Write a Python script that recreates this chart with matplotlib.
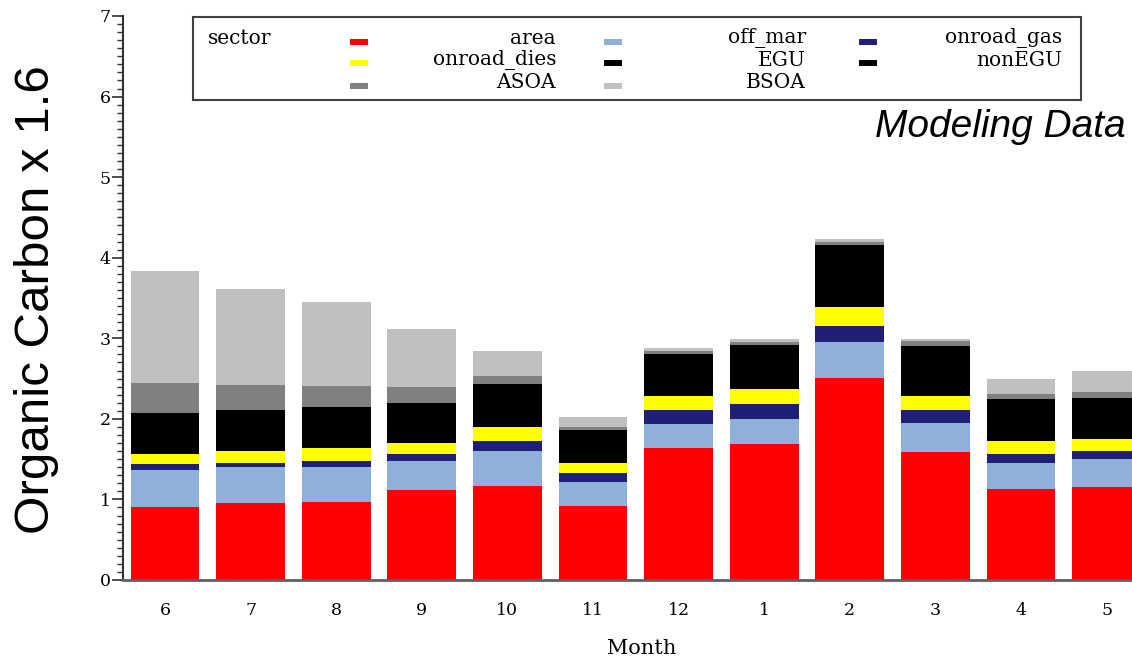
import matplotlib
matplotlib.use("Agg")
import matplotlib.pyplot as plt
from matplotlib.patches import Rectangle
from matplotlib.ticker import MultipleLocator
import numpy as np

# ---- data ----
months = ["6", "7", "8", "9", "10", "11", "12", "1", "2", "3", "4", "5"]
area        = [0.906, 0.952, 0.968, 1.113, 1.171, 0.918, 1.642, 1.684, 2.511, 1.585, 1.126, 1.154]
off_mar     = [0.455, 0.455, 0.439, 0.368, 0.426, 0.295, 0.290, 0.310, 0.439, 0.364, 0.322, 0.352]
onroad_gas  = [0.075, 0.041, 0.074, 0.087, 0.132, 0.119, 0.178, 0.190, 0.207, 0.161, 0.120, 0.095]
onroad_dies = [0.132, 0.153, 0.161, 0.132, 0.174, 0.116, 0.178, 0.191, 0.235, 0.178, 0.161, 0.145]
EGU         = [0.15, 0.16, 0.15, 0.14, 0.16, 0.12, 0.14, 0.15, 0.20, 0.17, 0.14, 0.14]
nonEGU      = [0.351, 0.353, 0.351, 0.361, 0.374, 0.294, 0.373, 0.396, 0.562, 0.450, 0.374, 0.369]
ASOA        = [0.380, 0.306, 0.265, 0.191, 0.099, 0.041, 0.037, 0.037, 0.041, 0.058, 0.062, 0.075]
BSOA        = [1.386, 1.192, 1.042, 0.719, 0.310, 0.116, 0.037, 0.033, 0.033, 0.029, 0.186, 0.264]

series_names = ["area", "off_mar", "onroad_gas", "onroad_dies", "EGU", "nonEGU", "ASOA", "BSOA"]
series_vals = [area, off_mar, onroad_gas, onroad_dies, EGU, nonEGU, ASOA, BSOA]
colors = {"area": "#FF0000", "off_mar": "#8FB0D9", "onroad_gas": "#201F76",
          "onroad_dies": "#FFFF00", "EGU": "#000000", "nonEGU": "#000000",
          "ASOA": "#808080", "BSOA": "#C0C0C0"}

W, H = 1132, 657
fig = plt.figure(figsize=(W / 100, H / 100), dpi=100)

def fx(x):
    return x / W

def fy(y):
    return 1 - y / H

# axes placement (pixels)
ax_left, ax_right, ax_bottom, ax_top = 123, 1132, 580, 16
ax = fig.add_axes([fx(ax_left), fy(ax_bottom), (ax_right - ax_left) / W, (ax_bottom - ax_top) / H])

x = np.arange(len(months))
bottom = np.zeros(len(months))
for name, vals in zip(series_names, series_vals):
    v = np.array(vals)
    ax.bar(x, v, bottom=bottom, width=0.806, color=colors[name], edgecolor="none",
           label=name, zorder=2)
    bottom += v

spacing = 85.6
ax.set_xlim(-42 / spacing, (1132 - 165) / spacing)
ax.set_ylim(0, 7)
for s in ["top", "right"]:
    ax.spines[s].set_visible(False)
ax.spines["left"].set_color("#303030")
ax.spines["bottom"].set_color("#606060")
ax.spines["left"].set_linewidth(1.5)
ax.spines["bottom"].set_linewidth(2)

serif = "DejaVu Serif"
ax.set_xticks(x)
ax.set_xticklabels(months, family=serif, fontsize=12.5)
ax.tick_params(axis="x", length=0, pad=16)
ax.yaxis.set_major_locator(MultipleLocator(1))
ax.yaxis.set_minor_locator(MultipleLocator(0.1))
ax.tick_params(axis="y", which="major", length=8, width=1.2, pad=1, color="#303030")
ax.tick_params(axis="y", which="minor", length=4, width=1, color="#303030")
for lab in ax.get_yticklabels():
    lab.set_family(serif)
    lab.set_fontsize(12.5)

fig.text(fx(642), fy(648), "Month", family=serif, fontsize=15, ha="center", va="center")
fig.text(fx(37), fy(300), "Organic Carbon x 1.6", family="Liberation Sans", fontsize=35.5,
         rotation=90, ha="center", va="center")
fig.text(fx(1126), fy(127), "Modeling Data", family="Liberation Sans", style="italic",
         fontsize=28, ha="right", va="center")

# ---- legend box ----
fig.patches.append(Rectangle((fx(193), fy(100)), (1081 - 193) / W, (100 - 17) / H,
                             transform=fig.transFigure, facecolor="white",
                             edgecolor="#404040", linewidth=1.5, zorder=5))
fig.text(fx(208), fy(38), "sector", family=serif, fontsize=14.5, ha="left", va="center", zorder=6)
legend_layout = [
    ["area", "off_mar", "onroad_gas"],
    ["onroad_dies", "EGU", "nonEGU"],
    ["ASOA", "BSOA", None],
]
marker_x = [350, 604, 859]
label_right = [556, 806, 1062]
row_text_y = [38, 60, 82]
row_marker_y = [42, 63, 86]
for r, row in enumerate(legend_layout):
    for c, name in enumerate(row):
        if name is None:
            continue
        fig.patches.append(Rectangle((fx(marker_x[c]), fy(row_marker_y[r] + 3)), 18 / W, 6 / H,
                                     transform=fig.transFigure, facecolor=colors[name],
                                     edgecolor="none", zorder=6))
        fig.text(fx(label_right[c]), fy(row_text_y[r]), name, family=serif, fontsize=14.5,
                 ha="right", va="center", zorder=6)

fig.savefig("out.png", dpi=100)
